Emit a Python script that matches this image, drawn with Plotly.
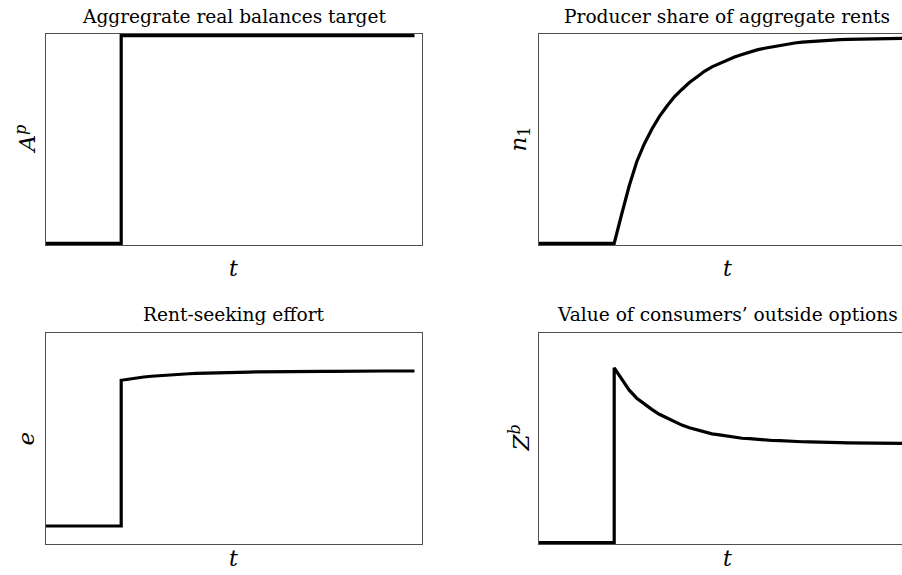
import plotly.graph_objects as go

# Time grid: steady state until the shock at t = 10, transition afterwards
t_pre = [0, 10]
t_post = list(range(10, 50))

# Aggregate real balances target (step up at the shock)
A_pre = [0.0, 0.0]
A_post = [1.0] * 40

# Producer share of aggregate rents
n1_pre = [0.0, 0.0]
n1_post = [0.000, 0.140, 0.275, 0.390, 0.475, 0.545, 0.605, 0.655, 0.700, 0.735,
           0.768, 0.795, 0.822, 0.843, 0.860, 0.877, 0.890, 0.902, 0.914, 0.924,
           0.932, 0.939, 0.945, 0.951, 0.957, 0.961, 0.964, 0.967, 0.969, 0.971,
           0.973, 0.974, 0.975, 0.976, 0.977, 0.978, 0.979, 0.979, 0.980, 0.980]

# Rent-seeking effort
e_pre = [0.0, 0.0]
e_post = [0.940, 0.948, 0.955, 0.961, 0.966, 0.970, 0.974, 0.977, 0.980, 0.982,
          0.984, 0.986, 0.988, 0.989, 0.990, 0.991, 0.992, 0.993, 0.994, 0.995,
          0.996, 0.996, 0.997, 0.997, 0.997, 0.998, 0.998, 0.998, 0.998, 0.999,
          0.999, 0.999, 0.999, 0.999, 1.000, 1.000, 1.000, 1.000, 1.000, 1.000]

# Value of consumers' outside options
Z_pre = [0.0, 0.0]
Z_post = [1.000, 0.935, 0.872, 0.826, 0.792, 0.762, 0.734, 0.712, 0.690, 0.672,
          0.657, 0.644, 0.634, 0.622, 0.616, 0.609, 0.603, 0.597, 0.595, 0.590,
          0.588, 0.584, 0.583, 0.580, 0.578, 0.577, 0.576, 0.574, 0.573, 0.573,
          0.572, 0.571, 0.571, 0.570, 0.570, 0.569, 0.568, 0.568, 0.567, 0.567]

titles = ["Aggregrate real balances target", "Producer share of aggregate rents",
          "Rent-seeking effort", "Value of consumers’ outside options"]
ylabels = ["<i>A</i><sup><i>p</i></sup>", "<i>n</i><sub>1</sub>",
           "<i>e</i>", "<i>Z</i><sup><i>b</i></sup>"]
xlabel = "<i>t</i>"

W, H = 902, 575
FONT = "DejaVu Serif"

fig = go.Figure()

panels = [
    (t_pre + t_post, A_pre + A_post, "x", "y"),
    (t_pre + t_post, n1_pre + n1_post, "x2", "y2"),
    (t_pre + t_post, e_pre + e_post, "x3", "y3"),
    (t_pre + t_post, Z_pre + Z_post, "x4", "y4"),
]
for tx, vy, xa, ya in panels:
    fig.add_trace(go.Scatter(x=tx, y=vy, mode="lines", xaxis=xa, yaxis=ya,
                             line=dict(color="black", width=3.2),
                             showlegend=False, hoverinfo="skip"))

# panel boxes in pixels: (left, right, top, bottom)
left_box = (46, 422)
right_box = (539, 915)
top_rows = (34, 245)
bot_rows = (333, 544)
px_per_t = (left_box[1] - left_box[0]) / 50.0


def dom_x(a, b):
    return [a / W, min(b / W, 1.0)]


def dom_y(top, bottom):
    return [1 - bottom / H, 1 - top / H]


frame = dict(showgrid=False, zeroline=False, showticklabels=False, ticks="",
             showline=True, linecolor="#505050", linewidth=1)

right_span = (W - right_box[0]) / px_per_t

fig.update_layout(
    width=W, height=H, margin=dict(l=0, r=0, t=0, b=0),
    paper_bgcolor="white", plot_bgcolor="white",
    xaxis=dict(domain=dom_x(*left_box), range=[0, 50], mirror=True, anchor="y", **frame),
    yaxis=dict(domain=dom_y(*top_rows), range=[-0.008, 1.008], mirror=True, anchor="x", **frame),
    xaxis2=dict(domain=dom_x(*right_box), range=[0, right_span], mirror=True, anchor="y2", **frame),
    yaxis2=dict(domain=dom_y(*top_rows), range=[-0.008, 1.0], mirror=False, anchor="x2", **frame),
    xaxis3=dict(domain=dom_x(*left_box), range=[0, 50], mirror=True, anchor="y3", **frame),
    yaxis3=dict(domain=dom_y(*bot_rows), range=[-0.116, 1.245], mirror=True, anchor="x3", **frame),
    xaxis4=dict(domain=dom_x(*right_box), range=[0, right_span], mirror=True, anchor="y4", **frame),
    yaxis4=dict(domain=dom_y(*bot_rows), range=[-0.008, 1.199], mirror=False, anchor="x4", **frame),
)

ann = []
centers_x = [(left_box[0] + left_box[1]) / 2, (right_box[0] + right_box[1]) / 2]
title_y = [16, 314]
xlab_y = [268, 558]
ylab_x = [25, 519]
rows = [top_rows, bot_rows]
k = 0
for r in range(2):
    for c in range(2):
        ann.append(dict(text=titles[k], x=centers_x[c] / W, y=1 - title_y[r] / H,
                        xref="paper", yref="paper", showarrow=False,
                        xanchor="center", yanchor="middle",
                        font=dict(family=FONT, size=18.6, color="black")))
        ann.append(dict(text=xlabel, x=centers_x[c] / W, y=1 - xlab_y[r] / H,
                        xref="paper", yref="paper", showarrow=False,
                        xanchor="center", yanchor="middle",
                        font=dict(family=FONT, size=22, color="black")))
        ann.append(dict(text=ylabels[k], x=ylab_x[c] / W,
                        y=1 - (rows[r][0] + rows[r][1]) / 2 / H,
                        xref="paper", yref="paper", showarrow=False, textangle=-90,
                        xanchor="center", yanchor="middle",
                        font=dict(family=FONT, size=23, color="black")))
        k += 1
fig.update_layout(annotations=ann)

fig.write_html("out.html")
